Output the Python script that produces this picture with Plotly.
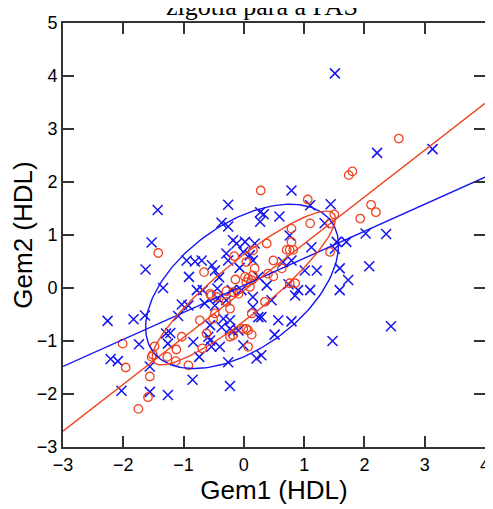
import numpy as np
import plotly.graph_objects as go

# --- data ---
blue_x = [1.51, 3.13, 2.21, -1.43, -1.53, -1.63, -1.34, -0.95, -0.81, -0.70, -0.91, -0.78, -0.68,
          -0.26, -0.37, -0.26, -0.18, -0.12, -0.29, -0.53, -0.48, -0.41, -0.07, -0.44, -0.20, -0.04,
          0.79, 0.27, 0.33, 0.27, 0.59, 1.10, 1.44, 1.34, 0.76, 1.12, 1.54, 1.70,
          0.02, 0.18, -0.01, 0.15, 0.65, 0.79, 1.01, 1.21, 1.59, 1.73, 0.24, 0.38, 0.74, 0.90, 1.10, 1.59,
          2.02, 2.36, 2.08, 2.44, 1.47,
          -2.26, -1.83, -1.64, -1.74, -2.21, -2.09, -2.03,
          -1.03, -0.92, -1.09, -1.29, -1.22, -1.26, -0.84, -0.74, -1.56, -1.56, -1.26, -0.85,
          -0.65, -0.48, -0.43, -0.29, -0.56, -0.34, -0.23, -0.37, -0.23, -0.18, -0.59, -0.56, -0.09, -0.01,
          -0.40, -0.54, -0.26, -0.23,
          0.15, 0.46, 0.85, 0.15, 0.24, 0.29, 0.57, 0.79, 0.51, 0.21, 0.29, -0.26, 0.10, 1.51]
blue_y = [4.05, 2.62, 2.55, 1.47, 0.86, 0.35, 0.00, 0.52, 0.50, 0.52, 0.21, -0.04, -0.04,
          1.57, 1.23, 1.16, 0.90, 0.84, 0.65, 0.43, 0.33, 0.20, 0.38, -0.01, -0.04, -0.04,
          1.84, 1.43, 1.39, 1.25, 1.35, 1.56, 1.58, 1.22, 0.99, 0.77, 0.87, 0.87,
          0.87, 0.84, 0.68, 0.52, 0.49, 0.52, 0.33, 0.33, 0.37, 0.15, 0.21, 0.05, 0.07, -0.04, -0.04, -0.04,
          1.03, 1.02, 0.41, -0.72, -1.00,
          -0.62, -0.59, -0.52, -1.06, -1.34, -1.38, -1.94,
          -0.31, -0.33, -0.53, -0.86, -0.85, -1.05, -1.02, -1.30, -1.48, -1.96, -2.02, -1.73,
          -0.29, -0.33, -0.20, -0.23, -0.70, -0.58, -0.61, -0.74, -0.77, -0.82, -0.92, -0.99, -0.80, -1.08,
          -1.11, -1.11, -1.40, -1.85,
          -0.17, -0.23, -0.14, -0.36, -0.55, -0.55, -0.61, -0.63, -0.88, -1.33, -1.27, 0.52, 0.62, 0.74]

red_x = [2.57, 1.74, 1.80, 2.11, 2.19, 1.93,
         0.28, 1.06, 1.50, 1.43, 1.10, 0.79, 0.79,
         0.71, 0.76, 0.82, 1.43, 0.15, 0.38, 0.49,
         0.04, 0.18, 0.63, 0.02, 0.07, 0.15, 0.13, 0.04,
         0.40, 0.49, 0.10, 0.76, 0.85,
         -1.42, -0.16, -0.66, -0.14, -0.56, -0.29, -0.18, -0.09, -0.45,
         -0.54, -0.29, -0.23, -0.48, -0.51, -0.73, -0.62,
         -1.03, -1.12, -1.27, -1.13, -1.51, -1.53, -0.92, -0.69, -1.48,
         -0.23, -0.18, 0.35, 0.13, -0.01, 0.04, 0.07, 0.13, 0.07,
         -2.01, -1.96, -1.75, -1.59, -1.56]
red_y = [2.82, 2.13, 2.20, 1.57, 1.43, 1.31,
         1.84, 1.67, 1.39, 1.22, 1.22, 1.12, 0.87,
         0.72, 0.72, 0.72, 0.68, 0.71, 0.84, 0.52,
         0.49, 0.37, 0.37, 0.21, 0.18, 0.24, 0.15, 0.11,
         0.27, 0.22, 0.02, 0.09, 0.09,
         0.66, 0.60, 0.30, 0.16, -0.11, -0.06, -0.08, -0.11, -0.17,
         -0.14, -0.26, -0.39, -0.48, -0.58, -0.61, -0.86,
         -0.92, -1.16, -1.30, -1.38, -1.26, -1.30, -1.46, -1.14, -1.10,
         -0.92, -0.89, -0.26, -0.48, -0.77, -0.77, -0.80, -0.88, -1.11,
         -1.05, -1.50, -2.28, -2.06, -1.67]

# regression lines (slope, intercept)
blue_fit = (0.51, 0.05)
red_fit = (0.884, -0.05)
# ellipses: centre x, centre y, half-extent x, half-extent y, correlation
blue_ell = (-0.03, 0.03, 1.60, 1.55, 0.50)
red_ell = (0.00, 0.00, 1.52, 1.45, 0.90)

x_range = [-3, 4]
y_range = [-3, 5]
x_ticks = [-3, -2, -1, 0, 1, 2, 3, 4]
y_ticks = [-3, -2, -1, 0, 1, 2, 3, 4, 5]

BLUE = "#1414f0"
RED = "#ee4422"


def ellipse(p):
    cx, cy, ax, ay, rho = p
    t = np.linspace(0, 2 * np.pi, 200)
    return cx + ax * np.cos(t), cy + ay * (rho * np.cos(t) + np.sqrt(1 - rho ** 2) * np.sin(t))


fig = go.Figure()
fig.add_trace(go.Scatter(x=blue_x, y=blue_y, mode="markers",
                         marker=dict(symbol="x-thin-open", size=10, color=BLUE,
                                     line=dict(color=BLUE, width=1.5))))
fig.add_trace(go.Scatter(x=red_x, y=red_y, mode="markers",
                         marker=dict(symbol="circle-open", size=8.5, color=RED,
                                     line=dict(color=RED, width=1.3))))
for fit, col in [(blue_fit, BLUE), (red_fit, RED)]:
    xs = np.array(x_range, dtype=float)
    fig.add_trace(go.Scatter(x=xs, y=fit[0] * xs + fit[1], mode="lines",
                             line=dict(color=col, width=1.4)))
for p, col in [(blue_ell, BLUE), (red_ell, RED)]:
    ex, ey = ellipse(p)
    fig.add_trace(go.Scatter(x=ex, y=ey, mode="lines", line=dict(color=col, width=1.4)))

FONT = "Liberation Sans, Arial"
axis_common = dict(showgrid=False, zeroline=False, showline=True, linecolor="#333333",
                   linewidth=2, mirror="ticks", ticks="inside", ticklen=11, tickwidth=1.5,
                   tickcolor="#333333", automargin=False,
                   tickfont=dict(family=FONT, size=18, color="black"))
fig.update_xaxes(range=x_range, tickvals=x_ticks, **axis_common,
                 title=dict(text="Gem1 (HDL)", font=dict(family=FONT, size=26, color="black"),
                            standoff=2))
fig.update_yaxes(range=y_range, tickvals=y_ticks, **axis_common,
                 title=dict(text="Gem2 (HDL)", font=dict(family=FONT, size=26, color="black"),
                            standoff=4))

fig.add_annotation(text="zigotia para a PAS", xref="paper", yref="paper",
                   x=0.472, y=1.040, yanchor="middle", showarrow=False,
                   font=dict(family="Liberation Serif, Times New Roman", size=26, color="black"))

# page body adds an 8px offset, so the figure is sized to fit the window
fig.update_layout(width=485, height=501, showlegend=False,
                  margin=dict(l=55, r=8, t=15, b=62),
                  plot_bgcolor="white", paper_bgcolor="white")
fig.write_html("out.html")
